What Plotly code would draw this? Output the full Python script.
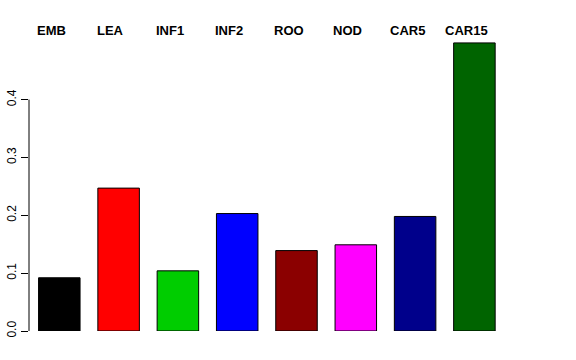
import plotly.graph_objects as go

categories = ["EMB", "LEA", "INF1", "INF2", "ROO", "NOD", "CAR5", "CAR15"]
values = [0.092, 0.247, 0.104, 0.203, 0.139, 0.149, 0.198, 0.498]
colors = ["#000000", "#FF0000", "#00CD00", "#0000FF", "#8B0000", "#FF00FF", "#00008B", "#006400"]
ytick_vals = [0.0, 0.1, 0.2, 0.3, 0.4]
ytick_text = ["0.0", "0.1", "0.2", "0.3", "0.4"]

x_pos = list(range(len(categories)))

fig = go.Figure()
fig.add_trace(go.Bar(
    x=x_pos, y=values,
    marker=dict(color=colors, line=dict(color="#000000", width=1)),
    cliponaxis=False,
    showlegend=False,
))

for i, c in enumerate(categories):
    fig.add_annotation(
        x=i, y=1.0, xref="x", yref="paper", text="<b>" + c + "</b>",
        showarrow=False, xanchor="center", yanchor="middle", xshift=-8, yshift=0,
        font=dict(family="Liberation Sans, Arial, sans-serif", size=13, color="#000000"),
    )

fig.add_shape(type="line", xref="paper", yref="y", x0=0, x1=0, y0=0, y1=0.4,
              line=dict(color="#000000", width=1))

px_per_unit = 59.3
left = 29
x0 = (left - 59.3) / px_per_unit
x1 = x0 + (576 - left) / px_per_unit

fig.update_layout(
    width=576, height=360,
    margin=dict(l=left, r=0, t=30, b=29, autoexpand=False),
    plot_bgcolor="white", paper_bgcolor="white",
    bargap=0.3,
    font=dict(family="Liberation Sans, Arial, sans-serif", size=12, color="#000000"),
    xaxis=dict(range=[x0, x1], showticklabels=False, showline=False, showgrid=False,
               zeroline=False, ticks="", automargin=False),
    yaxis=dict(range=[0, 301 / 578.5], tickvals=ytick_vals, ticktext=ytick_text,
               tickangle=-90, ticks="outside", ticklen=7, tickwidth=1, tickcolor="#000000",
               showline=False, showgrid=False, zeroline=False, automargin=False,
               tickfont=dict(size=12, color="#000000")),
)

fig.write_html("out.html",
               config={"displayModeBar": False},
               post_script="document.body.style.margin='0';document.body.style.overflow='hidden';")
